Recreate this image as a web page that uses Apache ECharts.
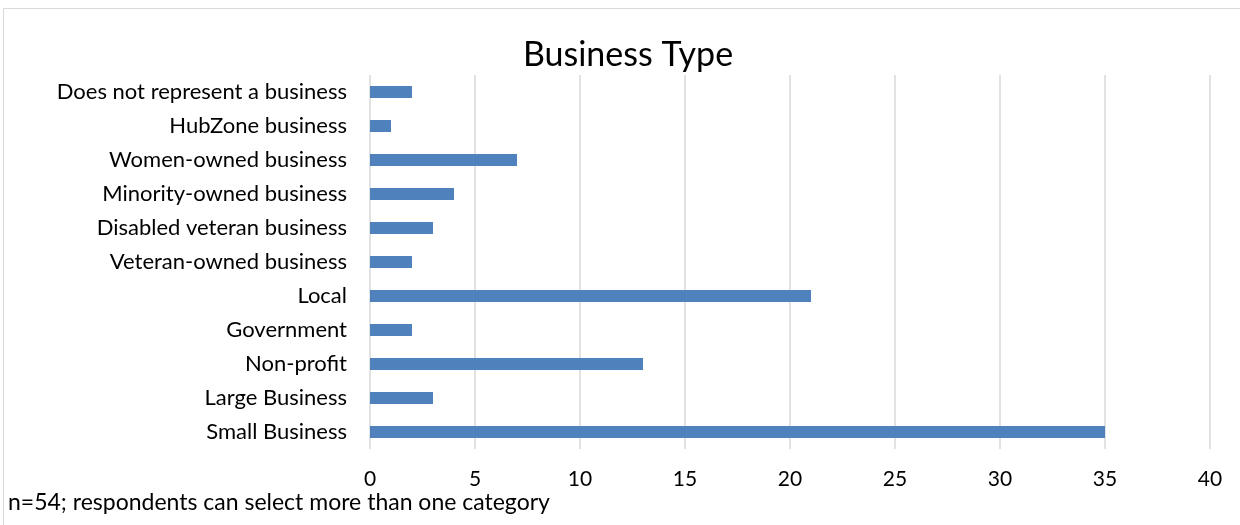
<!DOCTYPE html>
<html>
<head>
<meta charset="utf-8">
<script src="https://cdn.jsdelivr.net/npm/echarts@6/dist/echarts.min.js"></script>
<style>
  html, body { margin: 0; padding: 0; background: #fff; }
  #chart { width: 1240px; height: 525px; }
</style>
</head>
<body>
<div id="chart"></div>
<script>
// categories listed bottom to top (category axis starts at the bottom)
const categories = [
  'Small Business',
  'Large Business',
  'Non-profit',
  'Government',
  'Local',
  'Veteran-owned business',
  'Disabled veteran business',
  'Minority-owned business',
  'Women-owned business',
  'HubZone business',
  'Does not represent a business'
];
const counts = [35, 3, 13, 2, 21, 2, 3, 4, 7, 1, 2];
const xTicks = [0, 5, 10, 15, 20, 25, 30, 35, 40];

const font = 'Lato, "Open Sans", sans-serif';

let chart = echarts.init(document.getElementById('chart'));
chart.setOption({
  animation: false,
  grid: { left: 370, right: 30, top: 75, bottom: 76 },
  xAxis: {
    type: 'value',
    min: xTicks[0],
    max: xTicks[xTicks.length - 1],
    interval: 5,
    axisLine: { show: false },
    axisTick: { show: false },
    axisLabel: { color: '#000', fontSize: 21, fontFamily: font, margin: 20 },
    splitLine: { lineStyle: { color: '#d9d9d9', width: 1.5 } }
  },
  yAxis: {
    type: 'category',
    data: categories,
    axisLine: { show: false },
    axisTick: { show: false },
    axisLabel: { color: '#000', fontSize: 22, fontFamily: font, margin: 23 }
  },
  series: [{
    type: 'bar',
    data: counts,
    barWidth: 12,
    itemStyle: { color: '#4f81bd' }
  }],
  graphic: [
    {
      type: 'rect',
      shape: { x: 3.5, y: 8.5, width: 1250, height: 530 },
      style: { fill: 'none', stroke: '#d9d9d9', lineWidth: 1 },
      silent: true
    },
    {
      type: 'text',
      x: 628, y: 55,
      style: {
        text: 'Business Type', fontSize: 34, fontFamily: font,
        fill: '#000', align: 'center', verticalAlign: 'middle'
      }
    },
    {
      type: 'text',
      x: 8, y: 503,
      style: {
        text: 'n=54; respondents can select more than one category', fontSize: 23,
        fontFamily: font, fill: '#000', align: 'left', verticalAlign: 'middle'
      }
    }
  ]
});
</script>
</body>
</html>
